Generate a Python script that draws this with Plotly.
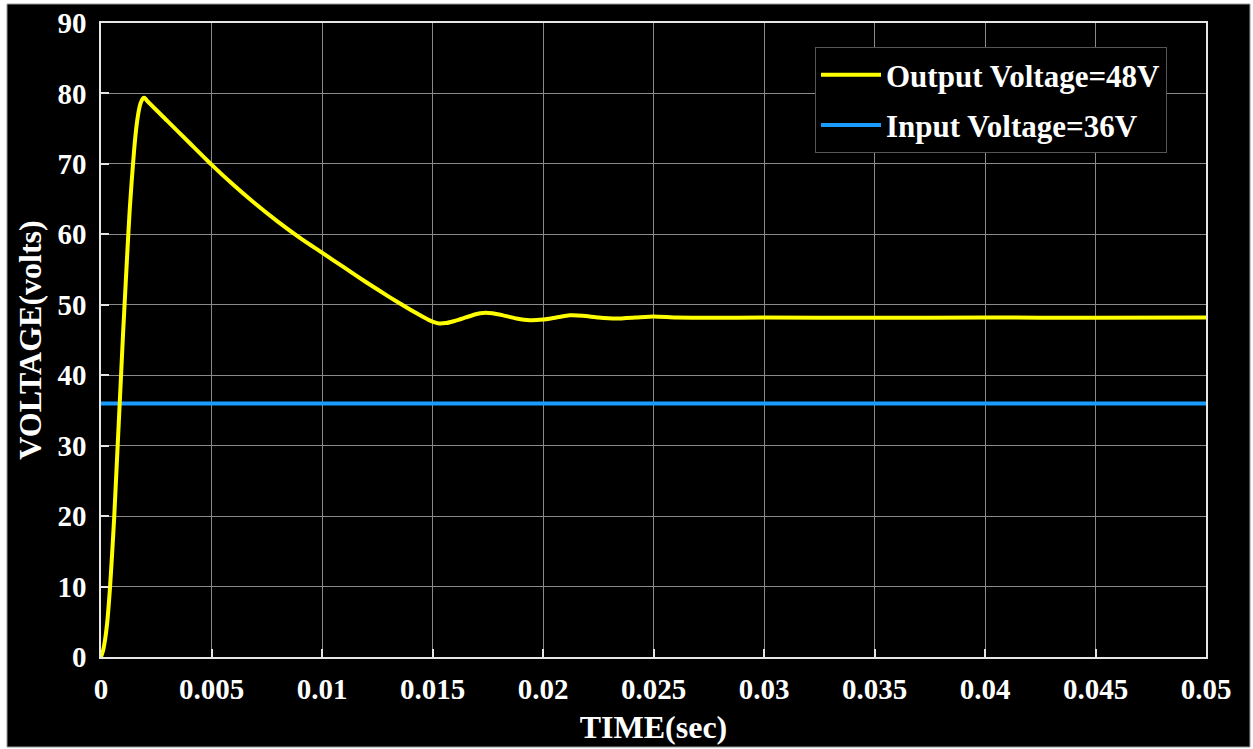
import plotly.graph_objects as go

# ---- data ----
out_time = [0, 0.0001, 0.0002, 0.0003, 0.0004, 0.0005, 0.0006, 0.0007, 0.0008, 0.0009,
            0.001, 0.0011, 0.0012, 0.0013, 0.0014, 0.0015, 0.0016, 0.0017, 0.0018, 0.0019,
            0.00195, 0.002, 0.0021, 0.003, 0.004, 0.005, 0.006, 0.007, 0.008, 0.009,
            0.010, 0.011, 0.012, 0.013, 0.014, 0.0145, 0.0148, 0.0151, 0.0153, 0.0156,
            0.0160, 0.0165, 0.0170, 0.0173, 0.0177, 0.0182, 0.0188, 0.0194, 0.0200, 0.0206,
            0.0212, 0.0218, 0.0225, 0.0233, 0.0242, 0.0250, 0.0260, 0.0275, 0.0300, 0.0350,
            0.0400, 0.0450, 0.0500]
out_volt = [0, 1.0, 2.8, 5.5, 9.5, 14.5, 20.0, 26.5, 33.0, 39.5,
            46.0, 52.0, 58.0, 63.5, 68.0, 72.0, 75.2, 77.4, 78.7, 79.3,
            79.4, 79.3, 78.9, 76.1, 73.0, 69.9, 67.0, 64.3, 61.8, 59.5,
            57.4, 55.3, 53.2, 51.2, 49.3, 48.4, 47.9, 47.5, 47.35, 47.4,
            47.7, 48.2, 48.7, 48.85, 48.8, 48.5, 48.05, 47.8, 47.9, 48.2,
            48.5, 48.45, 48.2, 48.05, 48.2, 48.35, 48.2, 48.15, 48.2, 48.15,
            48.2, 48.15, 48.2]

in_time = [0, 0.05]
in_volt = [36, 36]

x_ticks = [0, 0.005, 0.01, 0.015, 0.02, 0.025, 0.03, 0.035, 0.04, 0.045, 0.05]
x_tick_text = ["0", "0.005", "0.01", "0.015", "0.02", "0.025", "0.03", "0.035", "0.04", "0.045", "0.05"]
y_ticks = [0, 10, 20, 30, 40, 50, 60, 70, 80, 90]
y_tick_text = ["0", "10", "20", "30", "40", "50", "60", "70", "80", "90"]

FONT = "Liberation Serif"
W, H = 1253, 749
ML, MR, MT, MB = 101, 47, 23, 92
PW, PH = W - ML - MR, H - MT - MB

fig = go.Figure()
fig.add_trace(go.Scatter(x=in_time, y=in_volt, mode="lines", name="Input Voltage=36V",
                         line=dict(color="#1a9bff", width=4), legendrank=2,
                         legendgroup="b"))
fig.add_trace(go.Scatter(x=out_time, y=out_volt, mode="lines", name="Output Voltage=48V",
                         line=dict(color="#ffff00", width=4, shape="spline", smoothing=0.5),
                         legendrank=1, legendgroup="a"))

# black framed background
fig.add_shape(type="rect", xref="paper", yref="paper", layer="below",
              x0=(7 - ML) / PW, x1=(1250 - ML) / PW,
              y0=((H - MB) - 747) / PH, y1=((H - MB) - 4) / PH,
              fillcolor="black", line=dict(color="#9a9a9a", width=1))

axis_common = dict(
    showgrid=True, gridcolor="#8a8a8a", gridwidth=1,
    showline=True, linecolor="#e6e6e6", linewidth=1.5, mirror=True,
    ticks="inside", ticklen=8, tickcolor="#e6e6e6", tickwidth=1.5,
    zeroline=False,
    tickfont=dict(family=FONT, size=29, color="white", weight="bold"),
)

fig.update_xaxes(range=[0, 0.05], tickvals=x_ticks, ticktext=x_tick_text,
                 title=dict(text="TIME(sec)", standoff=12,
                            font=dict(family=FONT, size=32, color="white", weight="bold")),
                 ticklabelstandoff=5, **axis_common)
fig.update_yaxes(range=[0, 90], tickvals=y_ticks, ticktext=y_tick_text,
                 title=dict(text="VOLTAGE(volts)", standoff=6,
                            font=dict(family=FONT, size=32, color="white", weight="bold")),
                 ticklabelstandoff=7, **axis_common)

fig.update_layout(
    width=W, height=H,
    margin=dict(l=ML, r=MR, t=MT, b=MB, autoexpand=False),
    paper_bgcolor="white", plot_bgcolor="black",
    showlegend=True,
    legend=dict(x=(815 - ML) / PW, y=((H - MB) - 47) / PH, xanchor="left", yanchor="top",
                bgcolor="black", bordercolor="#555555", borderwidth=1,
                font=dict(family=FONT, size=31, color="white", weight="bold"),
                itemwidth=60, traceorder="grouped", tracegroupgap=7),
)

fig.write_html("out.html", config={"displayModeBar": False},
               post_script="document.body.style.margin='0';document.body.style.overflow='hidden';")
